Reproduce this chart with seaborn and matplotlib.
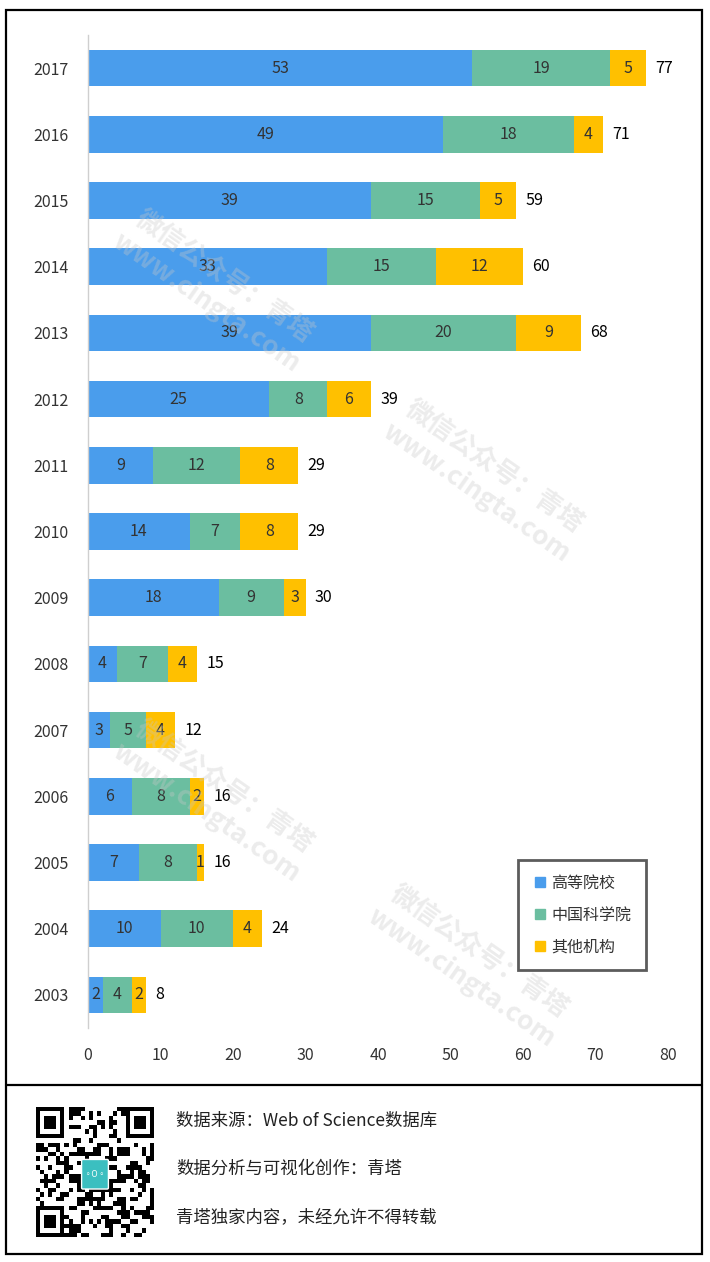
import matplotlib.pyplot as plt
import seaborn as sns
import numpy as np
import pandas as pd
from matplotlib.patches import Rectangle, FancyBboxPatch
from matplotlib.lines import Line2D

# --- data (top to bottom)
years = ['2017', '2016', '2015', '2014', '2013', '2012', '2011', '2010',
         '2009', '2008', '2007', '2006', '2005', '2004', '2003']
universities = [53, 49, 39, 33, 39, 25, 9, 14, 18, 4, 3, 6, 7, 10, 2]
cas = [19, 18, 15, 15, 20, 8, 12, 7, 9, 7, 5, 8, 8, 10, 4]
others = [5, 4, 5, 12, 9, 6, 8, 8, 3, 4, 4, 2, 1, 4, 2]
series_names = ['高等院校', '中国科学院', '其他机构']
colors = ['#4A9DEC', '#6BBEA0', '#FFC000']
xticks = [0, 10, 20, 30, 40, 50, 60, 70, 80]

sns.set_theme(style='white')
plt.rcParams['font.family'] = ['Noto Sans CJK SC', 'DejaVu Sans']

df = pd.DataFrame({'year': years, 'u': universities, 'c': cas, 'o': others})
df['uc'] = df['u'] + df['c']
df['total'] = df['uc'] + df['o']

fig = plt.figure(figsize=(7.1, 12.62), dpi=100)
ax = fig.add_axes([88 / 710, 1 - 1028 / 1262, 580 / 710, 993 / 1262])

# stacked bars: draw cumulative sums from longest to shortest
for col, c in zip(['total', 'uc', 'u'], colors[::-1]):
    sns.barplot(data=df, x=col, y='year', order=years, orient='h',
                color=c, saturation=1, width=0.55, ax=ax, edgecolor='none')

ax.set_xlim(0, 80)
ax.set_xticks(xticks)
ax.set_xlabel('')
ax.set_ylabel('')
ax.tick_params(axis='both', length=0, labelsize=11.5, colors='#333333')
ax.tick_params(axis='x', pad=14)
ax.tick_params(axis='y', pad=14)
for s in ['top', 'right', 'bottom']:
    ax.spines[s].set_visible(False)
ax.spines['left'].set_color('#cfcfcf')
ax.spines['left'].set_linewidth(1)

# value labels
for i, row in df.iterrows():
    starts = [0, row['u'], row['uc']]
    vals = [row['u'], row['c'], row['o']]
    for s, v in zip(starts, vals):
        ax.text(s + v / 2, i, str(v), ha='center', va='center',
                fontsize=11.5, color='#333333')
    ax.text(row['total'] + 1.3, i, str(row['total']), ha='left', va='center',
            fontsize=11.5, color='black')

# legend
handles = [Line2D([0], [0], marker='s', linestyle='none', markersize=7,
                  markerfacecolor=c, markeredgecolor=c) for c in colors]
leg = ax.legend(handles, series_names, loc='upper left',
                bbox_to_anchor=(0.741, 0.169), fontsize=11.5, frameon=True,
                labelspacing=0.95, handletextpad=0.2, handlelength=1.0,
                borderpad=0.9, fancybox=False, borderaxespad=0)
leg.get_frame().set_edgecolor('#333333')
leg.get_frame().set_linewidth(2)
leg._legend_box.align = 'left'
for t in leg.get_texts():
    t.set_color('#333333')
# widen the box a little on the right like the reference
fig.canvas.draw()
bb = leg.get_frame().get_bbox()
leg.get_frame().set_width(655 - 518)
leg.get_frame().set_x(518)

# watermarks
for (wx, wy) in [(215, 290), (485, 480), (215, 800), (470, 965)]:
    fig.text(wx / 710, 1 - wy / 1262, '微信公众号：青塔\nwww.cingta.com',
             rotation=-35, ha='center', va='center', fontsize=19,
             color='#c8c8c8', alpha=0.35, linespacing=1.2, fontweight='bold',
             rotation_mode='anchor')

# outer frame and divider
fig.add_artist(Rectangle((6 / 710, 1 - 1254 / 1262), 696 / 710, 1244 / 1262,
                         transform=fig.transFigure, fill=False,
                         edgecolor='black', linewidth=1.6))
fig.add_artist(Line2D([6 / 710, 702 / 710], [1 - 1085 / 1262] * 2,
                      transform=fig.transFigure, color='black', linewidth=1.6))

# footer text
footer = ['数据来源：Web of Science数据库', '数据分析与可视化创作：青塔',
          '青塔独家内容，未经允许不得转载']
for k, line in enumerate(footer):
    fig.text(176 / 710, 1 - (1121 + 48 * k) / 1262, line, ha='left',
             va='center', fontsize=12.5, color='#222222')

# QR-like decoration
n = 29
ii, jj = np.meshgrid(np.arange(n), np.arange(n), indexing='ij')
grid = (((ii * 31 + jj * 17) ^ (ii * jj + 5)) % 7 < 3).astype(float)
for (r0, c0) in [(0, 0), (0, n - 7), (n - 7, 0)]:
    grid[r0:r0 + 8, c0:c0 + 8] = 0 if r0 == 0 and c0 == 0 else grid[r0:r0 + 8, c0:c0 + 8]
for (r0, c0) in [(0, 0), (0, n - 7), (n - 7, 0)]:
    grid[r0:r0 + 7, c0:c0 + 7] = 1
    grid[r0 + 1:r0 + 6, c0 + 1:c0 + 6] = 0
    grid[r0 + 2:r0 + 5, c0 + 2:c0 + 5] = 1
qax = fig.add_axes([36 / 710, 1 - 1237 / 1262, 118 / 710, 130 / 1262])
qax.imshow(grid, cmap='Greys', interpolation='nearest', aspect='auto')
qax.add_patch(FancyBboxPatch((11, 11.5), 6, 6, boxstyle='round,pad=0.3',
                             facecolor='#3BBFC0', edgecolor='white', lw=1))
qax.text(14, 14.5, '◦O◦', ha='center', va='center', fontsize=6, color='white')
qax.axis('off')

fig.savefig('out.png', dpi=100)
